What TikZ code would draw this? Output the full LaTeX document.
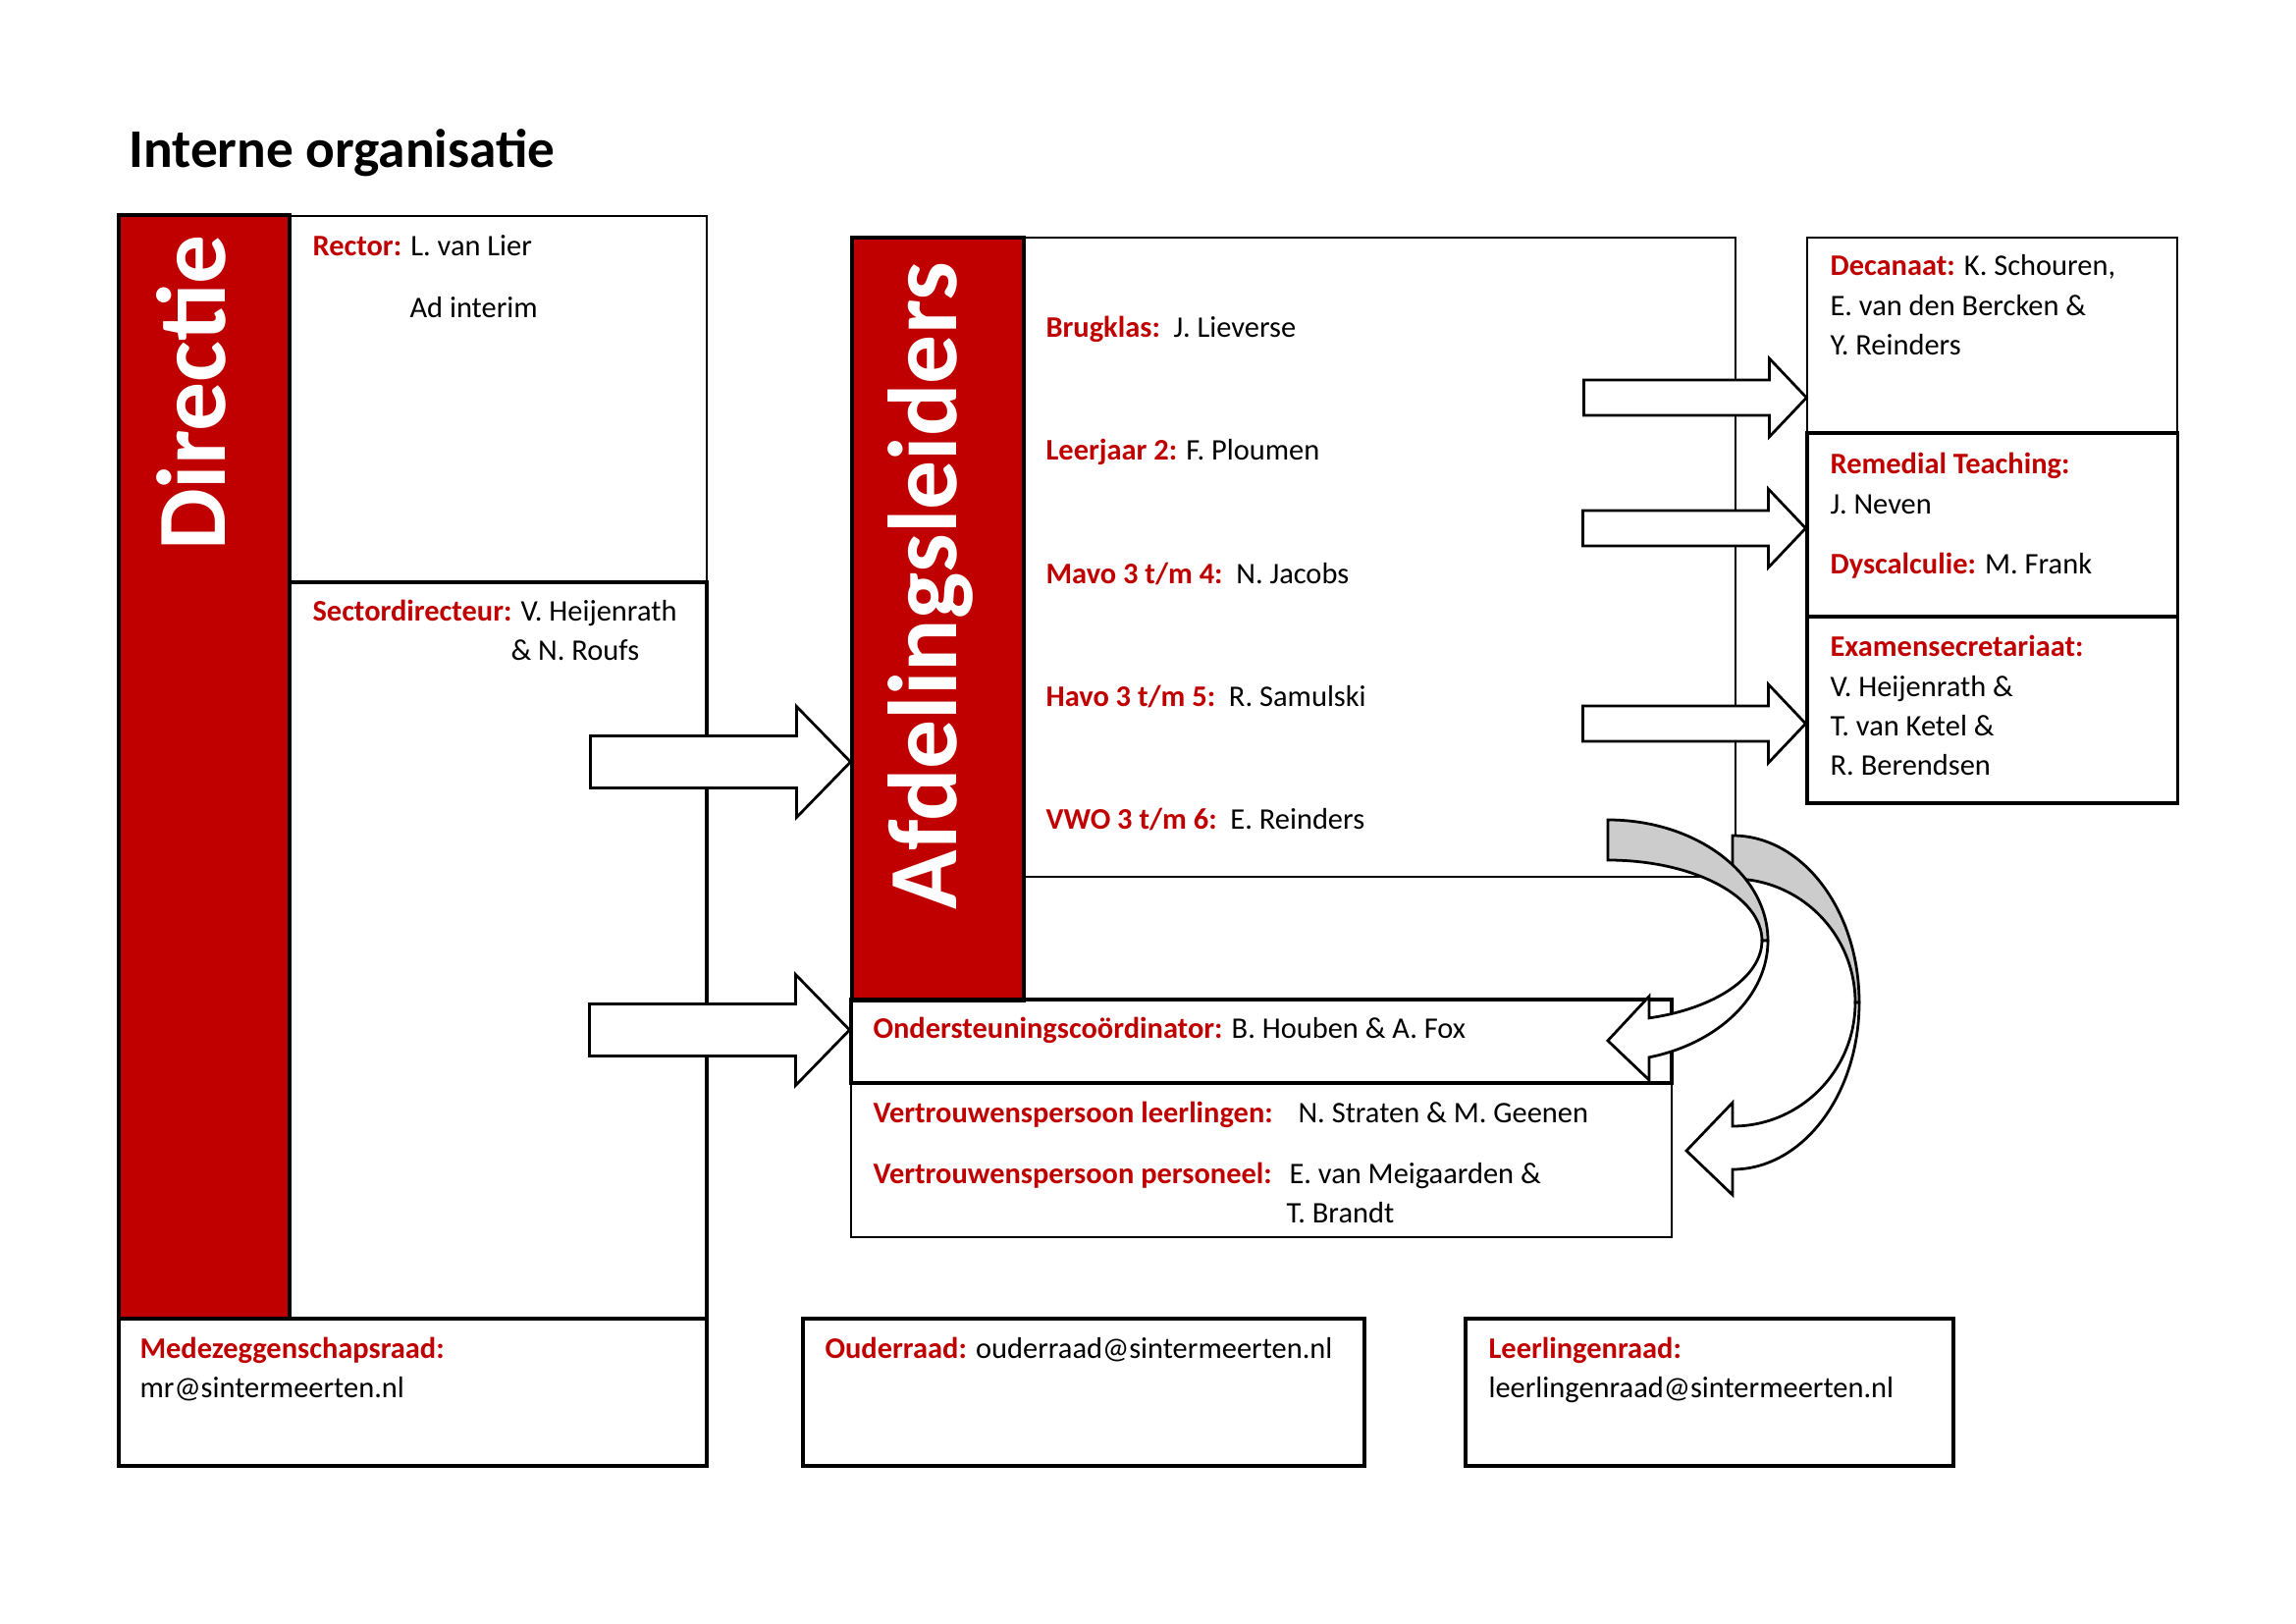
\documentclass[tikz,border=0pt]{standalone}
\usepackage{fontspec}
\setmainfont{Carlito}
\usetikzlibrary{fit,positioning}
\definecolor{ored}{HTML}{C00000}
\definecolor{backgray}{HTML}{CCCCCC}
\newcommand{\rl}[1]{\textcolor{ored}{\textbf{#1}}}
\tikzset{
  thin box/.style={draw,line width=.45pt,inner sep=0pt},
  thick box/.style={draw,line width=1.1pt,inner sep=0pt},
  mid box/.style={draw,line width=.9pt,inner sep=0pt},
  red bar/.style={thick box,fill=ored},
  txt/.style={anchor=base west,inner sep=0pt,font=\fontsize{11}{14.5}\selectfont},
  next line/.style={txt,at={([yshift=-14.5pt]#1.base west)}},
  bar title/.style={rotate=90,anchor=base,inner sep=0pt,text=white,
    font=\fontsize{36}{40}\selectfont\bfseries},
  block arrow/.style={draw,fill=white,line width=1pt,line join=miter},
  curve back/.style={draw,fill=backgray,line width=1pt},
  curve front/.style={draw,fill=white,line width=1pt},
  pics/rarrow/.style args={#1/#2/#3/#4}{code={
    \path[block arrow] (0,0) -- (-#3,-#2) -- (-#3,-#1) -- (-#4,-#1)
      -- (-#4,#1) -- (-#3,#1) -- (-#3,#2) -- cycle;}},
}

\begin{document}
\begin{tikzpicture}[x=0.12698mm,y=-0.12698mm]
  \useasboundingbox (0,0) rectangle (2339,1654);
  \node[txt,font=\fontsize{20}{24}\selectfont\bfseries] (title) at (131,171) {Interne organisatie};

  % directie column
  \node[red bar,fit={(121,219) (295,1343)}] (dirbar) {};
  \node[thin box,fit={(295,220) (720,593)}] (rector) {};
  \node[thick box,fit={(295,593) (720,1343)}] (sector) {};
  \node[thick box,fit={(121,1343) (720,1493)}] (mr) {};
  \node[bar title] (dirtitle) at (229,400) {Directie};
  \node[txt] (rectorname) at (318,261) {\rl{Rector:} L. van Lier};
  \node[txt] (interim) at (417,324) {Ad interim};
  \node[txt] (sectorname) at (318,633) {\rl{Sectordirecteur:} V. Heijenrath};
  \node[txt] (sectorname2) at (520,673) {\& N. Roufs};
  \node[txt] (mrlabel) at (142,1383) {\rl{Medezeggenschapsraad:}};
  \node[next line=mrlabel] (mrmail) {mr@sintermeerten.nl};

  % councils
  \node[thick box,fit={(818,1343) (1390,1493)}] (ouder) {};
  \node[txt] (ouderlabel) at (840,1383) {\rl{Ouderraad:} ouderraad@sintermeerten.nl};
  \node[thick box,fit={(1493,1343) (1990,1493)}] (llr) {};
  \node[txt] (llrlabel) at (1516,1383) {\rl{Leerlingenraad:}};
  \node[next line=llrlabel] (llrmail) {leerlingenraad@sintermeerten.nl};

  % afdelingsleiders
  \node[red bar,fit={(868,242) (1043,1019)}] (afdbar) {};
  \node[mid box,fit={(1043,242) (1768,893)}] (afd) {};
  \node[bar title] (afdtitle) at (974,597) {Afdelingsleiders};
  \node[txt] (brug) at (1065,344) {\rl{Brugklas:}\ \ J. Lieverse};
  \node[txt] (lj2) at (1065,469) {\rl{Leerjaar 2:} F. Ploumen};
  \node[txt] (mavo) at (1065,595) {\rl{Mavo 3 t/m 4:}\ \ N. Jacobs};
  \node[txt] (havo) at (1065,720) {\rl{Havo 3 t/m 5:}\ \ R. Samulski};
  \node[txt] (vwo) at (1065,845) {\rl{VWO 3 t/m 6:}\ \ E. Reinders};

  \node[thin box,fit={(867,1103) (1703,1260)}] (vertr) {};
  \node[thick box,fit={(867,1018) (1703,1103)}] (steun) {};
  \node[txt] (steunname) at (889,1057) {\rl{Ondersteuningscoördinator:} B. Houben \& A. Fox};
  \node[txt] (vll) at (889,1143) {\rl{Vertrouwenspersoon leerlingen:}};
  \node[txt] (vllname) at (1322,1143) {N. Straten \& M. Geenen};
  \node[txt] (vpers) at (889,1205) {\rl{Vertrouwenspersoon personeel:}};
  \node[txt] (vpersname) at (1313,1205) {E. van Meigaarden \&};
  \node[txt] (vpersname2) at (1310,1245) {T. Brandt};

  % support boxes on the right
  \node[thin box,fit={(1841,242) (2218,441)}] (decanaat) {};
  \node[thick box,fit={(1841,441) (2218,628)}] (remedial) {};
  \node[thick box,fit={(1841,628) (2218,818)}] (examen) {};
  \node[txt] (dec1) at (1864,281) {\rl{Decanaat:} K. Schouren,};
  \node[next line=dec1] (dec2) {E. van den Bercken \&};
  \node[next line=dec2] (dec3) {Y. Reinders};
  \node[txt] (rt1) at (1864,483) {\rl{Remedial Teaching:}};
  \node[next line=rt1] (rt2) {J. Neven};
  \node[txt] (dys) at (1864,585) {\rl{Dyscalculie:} M. Frank};
  \node[txt] (ex1) at (1864,669) {\rl{Examensecretariaat:}};
  \node[next line=ex1] (ex2) {V. Heijenrath \&};
  \node[next line=ex2] (ex3) {T. van Ketel \&};
  \node[next line=ex3] (ex4) {R. Berendsen};

  % block arrows
  \pic at (afdbar.west |- 0,776) {rarrow=26.5/56.5/55/265};
  \pic at (steun.west |- 0,1049) {rarrow=26.5/56.5/55/265};
  \pic at (decanaat.west |- 0,405) {rarrow=18/40/38/227};
  \pic at (remedial.west |- 0,538) {rarrow=18/40/38/227};
  \pic at (examen.west |- 0,737) {rarrow=18/40/38/227};

  % curved arrows, the outer one first
  \coordinate (c2) at (1765,1021);
  \coordinate (c1) at (1638,958);
  \path[curve back] (c2) ++(0,-170) arc[start angle=-90,end angle=0,x radius=129,y radius=170]
    -- ++(-4,0) arc[start angle=0,end angle=-90,x radius=125,y radius=126] -- cycle;
  \path[curve front] (c2) ++(129,0) arc[start angle=0,end angle=90,x radius=129,y radius=170]
    -- ++(0,26) -- ++(-47,-45) -- ++(47,-49) -- ++(0,24)
    arc[start angle=90,end angle=0,x radius=125,y radius=126] -- cycle;
  \path[curve back] (c1) ++(0,-123) arc[start angle=-90,end angle=0,x radius=163,y radius=123]
    -- ++(-6,0) arc[start angle=0,end angle=-90,x radius=157,y radius=82] -- cycle;
  \path[curve front] (c1) ++(163,0) arc[start angle=0,end angle=75.1,x radius=163,y radius=123]
    -- ++(0,23) -- ++(-42,-40) -- ++(42,-45) -- ++(0,22)
    arc[start angle=74.5,end angle=0,x radius=157,y radius=82] -- cycle;
\end{tikzpicture}
\end{document}
